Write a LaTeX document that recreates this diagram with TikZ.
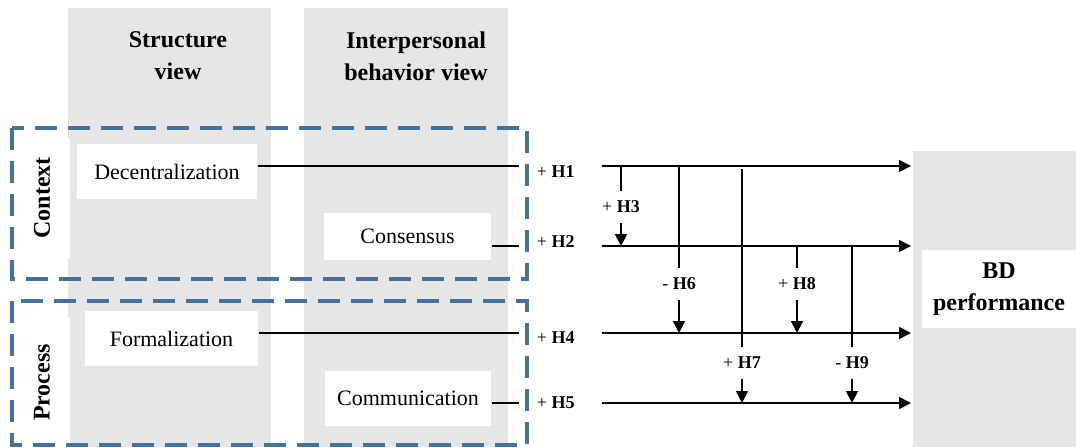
\documentclass[tikz,border=0pt]{standalone}
\usepackage{fontspec}
\setmainfont{Liberation Serif}
\usetikzlibrary{arrows.meta}

\definecolor{viewgray}{RGB}{230,230,230}
\definecolor{groupblue}{RGB}{68,114,158}

\begin{document}
\begin{tikzpicture}[x=1pt,y=-1pt,line width=1.8pt,
    factor/.style={fill=white,inner sep=0pt,font=\fontsize{22}{26}\selectfont},
    heading/.style={align=center,inner sep=0pt,font=\fontsize{24}{32}\selectfont\bfseries},
    grouplabel/.style={fill=white,rotate=90,inner sep=0pt,minimum height=56pt,
      font=\fontsize{24}{28}\selectfont\bfseries},
    groupbox/.style={draw=groupblue,line width=4pt,dash pattern=on 22pt off 11pt},
    hyp/.style={inner sep=0pt,font=\fontsize{18}{20}\selectfont},
    hypbox/.style={hyp,fill=white,minimum height=30pt,minimum width=60pt},
    effect/.style={-{Triangle[length=12pt,width=12pt]}}]
  \useasboundingbox (0,0) rectangle (1076,447);

  % view columns
  \fill[viewgray] (68,8) rectangle (271,447);
  \fill[viewgray] (304,8) rectangle (508,447);
  \fill[viewgray] (913,151) rectangle (1076,447);
  \node[heading] (sview) at (178,56) {Structure\\view};
  \node[heading] (iview) at (416,56) {Interpersonal\\behavior view};

  % context / process groups
  \node[grouplabel,minimum width=120pt] (ctx) at (42,198) {Context};
  \node[grouplabel,minimum width=129pt] (prc) at (42,382.5) {Process};
  \draw[groupbox] (12,128) rectangle (527,279);
  \draw[groupbox] (12,301) rectangle (527,445);

  \node[factor,minimum width=180pt,minimum height=55pt] (dec) at (167,171.5) {Decentralization};
  \node[factor,minimum width=167pt,minimum height=47pt] (con) at (407.5,236.5) {Consensus};
  \node[factor,minimum width=173pt,minimum height=55pt] (frm) at (171.5,338.5) {Formalization};
  \node[factor,minimum width=166pt,minimum height=55pt] (com) at (408,398.5) {Communication};

  \node[factor,align=center,minimum width=154pt,minimum height=78pt,
    font=\fontsize{24}{32}\selectfont\bfseries] (bd) at (999,289) {BD\\performance};

  % rows: factor line, label, effect arrow
  \coordinate (e1) at (519,166);
  \coordinate (e2) at (519,246);
  \coordinate (e4) at (519,333);
  \coordinate (e5) at (519,403);
  \coordinate (s1) at (602,166);
  \coordinate (s2) at (602,246);
  \coordinate (s4) at (602,333);
  \coordinate (s5) at (602,403);
  \coordinate (t1) at (911,166);
  \coordinate (t2) at (911,246);
  \coordinate (t4) at (911,333);
  \coordinate (t5) at (911,403);

  \draw (dec.east |- e1) -- (e1);
  \draw (con.east |- e2) -- (e2);
  \draw (frm.east |- e4) -- (e4);
  \draw (com.east |- e5) -- (e5);

  \node[hyp,anchor=base west] (h1) at (536,177) {+ \textbf{H1}};
  \node[hyp,anchor=base west] (h2) at (536,247) {+ \textbf{H2}};
  \node[hyp,anchor=base west] (h4) at (536,343) {+ \textbf{H4}};
  \node[hyp,anchor=base west] (h5) at (536,408) {+ \textbf{H5}};

  \draw[effect] (s1) -- (t1);
  \draw[effect] (s2) -- (t2);
  \draw[effect] (s4) -- (t4);
  \draw[effect] (s5) -- (t5);

  % moderating effects
  \node[hypbox] (h3) at (621,207) {+ \textbf{H3}};
  \node[hypbox] (h6) at (679,284) {- \textbf{H6}};
  \node[hypbox] (h7) at (742,363) {+ \textbf{H7}};
  \node[hypbox] (h8) at (797,284) {+ \textbf{H8}};
  \node[hypbox] (h9) at (852,363) {- \textbf{H9}};

  \draw (h3 |- s1) -- (h3);
  \draw[effect] (h3) -- (h3 |- s2);
  \draw (h6 |- s1) -- (h6);
  \draw[effect] (h6) -- (h6 |- s4);
  \draw[shorten <=3pt] (h7 |- s1) -- (h7);
  \draw[effect] (h7) -- (h7 |- s5);
  \draw (h8 |- s2) -- (h8);
  \draw[effect] (h8) -- (h8 |- s4);
  \draw (h9 |- s2) -- (h9);
  \draw[effect] (h9) -- (h9 |- s5);
\end{tikzpicture}
\end{document}
